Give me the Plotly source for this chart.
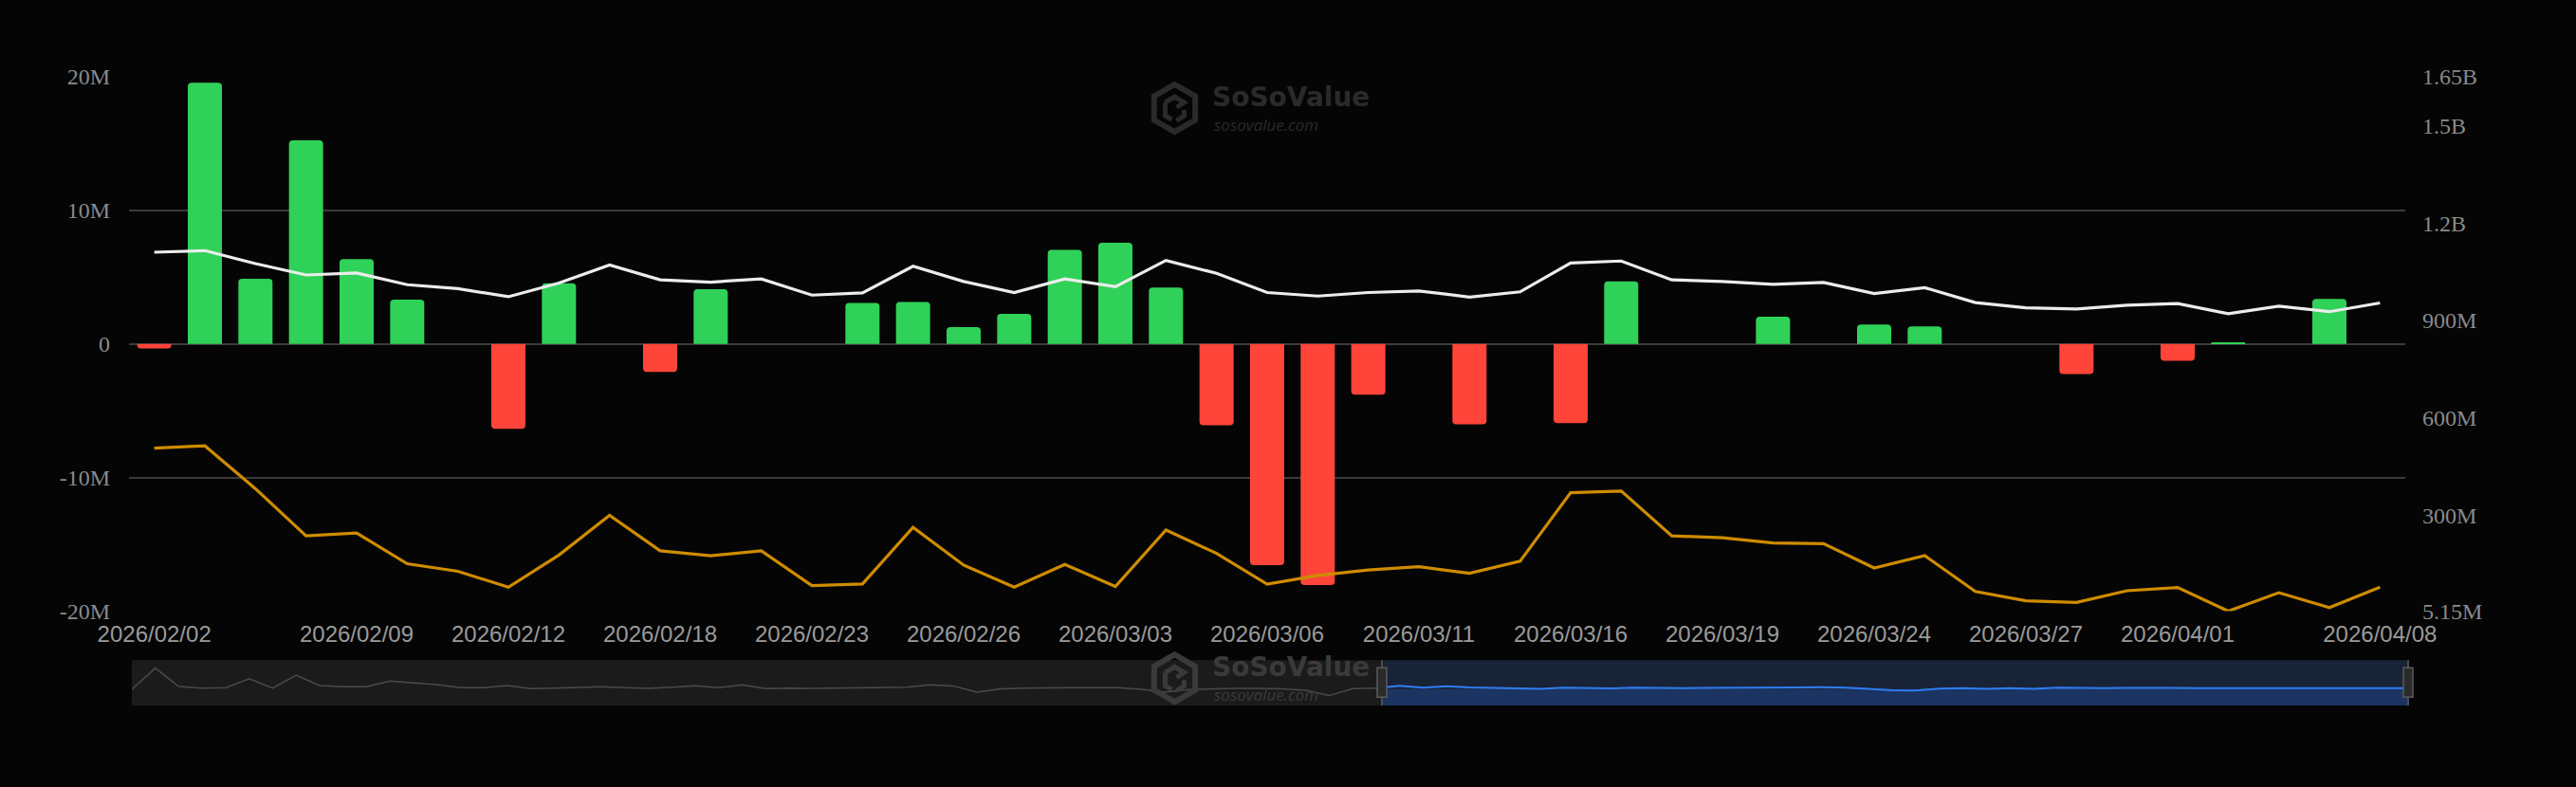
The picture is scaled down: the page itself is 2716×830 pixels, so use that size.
import plotly.graph_objects as go
import math

# ---------------- data ----------------
dates = [
    "2026/02/02", "2026/02/03", "2026/02/04", "2026/02/05", "2026/02/09",
    "2026/02/10", "2026/02/11", "2026/02/12", "2026/02/13", "2026/02/17",
    "2026/02/18", "2026/02/19", "2026/02/20", "2026/02/23", "2026/02/24",
    "2026/02/25", "2026/02/26", "2026/02/27", "2026/03/02", "2026/03/03",
    "2026/03/04", "2026/03/05", "2026/03/06", "2026/03/09", "2026/03/10",
    "2026/03/11", "2026/03/12", "2026/03/13", "2026/03/16", "2026/03/17",
    "2026/03/18", "2026/03/19", "2026/03/20", "2026/03/23", "2026/03/24",
    "2026/03/25", "2026/03/26", "2026/03/27", "2026/03/30", "2026/03/31",
    "2026/04/01", "2026/04/02", "2026/04/06", "2026/04/07", "2026/04/08",
]

# daily net inflow (M USD)
net_inflow = [
    -0.33, 19.55, 4.88, 15.24, 6.35, 3.32, 0, -6.35, 4.55, 0,
    -2.10, 4.10, 0, 0, 3.08, 3.15, 1.26, 2.25, 7.04, 7.58,
    4.22, -6.09, -16.56, -18.05, -3.79, 0, -6.01, 0, -5.92, 4.69,
    0, 0, 2.04, 0, 1.45, 1.31, 0, 0, -2.25, 0,
    -1.25, 0.12, 0, 3.37, 0,
]

# total net assets (M USD), right axis
total_net_assets = [
    1110, 1115, 1075, 1040, 1046, 1010, 998, 973, 1015, 1071,
    1025, 1018, 1028, 978, 985, 1067, 1020, 986, 1028, 1004,
    1085, 1045, 986, 975, 986, 991, 972, 988, 1077, 1083,
    1025, 1020, 1011, 1017, 983, 1001, 955, 939, 935, 947,
    952, 921, 944, 927, 954,
]

# value traded (M USD), right axis
value_traded = [
    507, 514, 382, 237, 246, 151, 128, 79, 178, 300,
    191, 176, 191, 84, 89, 263, 147, 79, 149, 81,
    255, 183, 88, 115, 132, 142, 122, 159, 370, 375,
    237, 231, 215, 213, 138, 176, 66, 37, 32, 68,
    78, 5.15, 62, 16, 79,
]

# net inflow of the earlier days shown only in the zoom slider (M USD)
slider_earlier_inflow = [
    -9, 163, 14, 1, 4, 76, 1, 106, 22, 12,
    12, 58, 42, 29, 4, 4, 22, -4, 1, 9,
    12, 4, -1, 9, 19, 4, 27, -4, 1, -1,
    1, 1, 4, 9, 27, 17, -32, -6, 1, 4,
    4, 4, 4, -9, -32, -12, -4, -1, -1, -6,
    -17, -60, -4,
]

x_tick_labels = [
    "2026/02/02", "2026/02/09", "2026/02/12", "2026/02/18", "2026/02/23",
    "2026/02/26", "2026/03/03", "2026/03/06", "2026/03/11", "2026/03/16",
    "2026/03/19", "2026/03/24", "2026/03/27", "2026/04/01", "2026/04/08",
]
left_tick_vals = [-20, -10, 0, 10, 20]
left_tick_text = ["-20M", "-10M", "0", "10M", "20M"]
right_tick_vals = [5.15, 300, 600, 900, 1200, 1500, 1650]
right_tick_text = ["5.15M", "300M", "600M", "900M", "1.2B", "1.5B", "1.65B"]

# ---------------- layout geometry ----------------
W, H = 2716, 830
ML, MR, MT, MB = 136, 176, 81, 86.3
PW = W - ML - MR
PH = H - MT - MB


def px(x):
    return (x - ML) / PW


def py(y):
    return (H - MB - y) / PH


GREEN = "#30D158"
RED = "#FF453A"
bar_colors = [GREEN if v >= 0 else RED for v in net_inflow]

fig = go.Figure()

fig.add_trace(go.Bar(
    x=dates, y=net_inflow, marker=dict(color=bar_colors, line=dict(width=0), cornerradius=4),
    xaxis="x", yaxis="y", name="Daily Net Inflow", hoverinfo="x+y",
))
fig.add_trace(go.Scatter(
    x=dates, y=total_net_assets, mode="lines", line=dict(color="#ECECEC", width=3.2),
    xaxis="x", yaxis="y2", name="Total Net Assets",
))
fig.add_trace(go.Scatter(
    x=dates, y=value_traded, mode="lines", line=dict(color="#CF8C00", width=3.2),
    xaxis="x", yaxis="y2", name="Value Traded",
))

# zoom slider sparkline
n_prev = len(slider_earlier_inflow)
all_flow = slider_earlier_inflow + net_inflow
idx_all = list(range(len(all_flow)))
fig.add_trace(go.Scatter(
    x=idx_all[:n_prev + 1], y=all_flow[:n_prev + 1], mode="lines",
    line=dict(color="#4a4a4a", width=1.5), xaxis="x2", yaxis="y3", hoverinfo="skip",
))
fig.add_trace(go.Scatter(
    x=idx_all[n_prev:], y=all_flow[n_prev:], mode="lines",
    line=dict(color="#2F7EF5", width=2), xaxis="x2", yaxis="y3", hoverinfo="skip",
))

slider_top, slider_bot = 696, 743.7
sel_x0, sel_x1 = 1457, 2539
shapes = [
    dict(type="rect", xref="paper", yref="paper", x0=px(139), x1=px(sel_x0),
         y0=py(slider_bot), y1=py(slider_top), fillcolor="#1b1b1b", line=dict(width=0), layer="below"),
    dict(type="rect", xref="paper", yref="paper", x0=px(sel_x0), x1=px(sel_x1),
         y0=py(slider_bot), y1=py(slider_top), fillcolor="#182338", line=dict(width=0), layer="below"),
    dict(type="rect", xref="paper", yref="paper", x0=px(sel_x0), x1=px(sel_x1),
         y0=py(slider_bot), y1=py(726.5), fillcolor="#1b3461", line=dict(width=0), layer="below"),
]
for hx in (sel_x0, sel_x1):
    shapes.append(dict(type="line", xref="paper", yref="paper", x0=px(hx), x1=px(hx),
                       y0=py(slider_bot), y1=py(slider_top), line=dict(color="#4d4d4d", width=2)))
    shapes.append(dict(type="rect", xref="paper", yref="paper", x0=px(hx - 5), x1=px(hx + 5),
                       y0=py(735), y1=py(704), fillcolor="#2a2a2a", line=dict(color="#5a5a5a", width=1.5)))


def hexagon(cx, cy, r):
    pts = []
    for k in range(6):
        a = math.radians(90 - 60 * k)
        pts.append((px(cx + r * math.cos(a)), py(cy - r * math.sin(a))))
    return "M " + " L ".join(f"{x:.6f},{y:.6f}" for x, y in pts) + " Z"


def logo_inner(cx, cy):
    segs = [
        [(cx - 10, cy - 6), (cx, cy - 12), (cx + 10, cy - 6), (cx + 2, cy - 1)],
        [(cx - 10, cy - 6), (cx - 10, cy + 8), (cx - 3, cy + 12)],
        [(cx + 10, cy + 2), (cx + 10, cy + 8), (cx + 2, cy + 13)],
    ]
    out = []
    for s in segs:
        out.append("M " + " L ".join(f"{px(x):.6f},{py(y):.6f}" for x, y in s))
    return " ".join(out)


annotations = []
for dy, col in ((0, "#2a2a2a"), (601, "#3a3a3a")):
    shapes.append(dict(type="path", xref="paper", yref="paper", path=hexagon(1238.5, 114 + dy, 25),
                       line=dict(color=col, width=6), layer="above"))
    shapes.append(dict(type="path", xref="paper", yref="paper", path=logo_inner(1238.5, 114 + dy),
                       line=dict(color=col, width=5), layer="above"))
    annotations.append(dict(xref="paper", yref="paper", x=px(1276), y=py(102.5 + dy), xanchor="left",
                            yanchor="middle", text="<b>SoSoValue</b>", showarrow=False,
                            font=dict(family="DejaVu Sans", size=28, color=col)))
    annotations.append(dict(xref="paper", yref="paper", x=px(1278), y=py(131 + dy), xanchor="left",
                            yanchor="middle", text="sosovalue.com", showarrow=False,
                            font=dict(family="Open Sans", size=17, color=col, style="italic")))

fig.update_layout(
    width=W, height=H,
    margin=dict(l=ML, r=MR, t=MT, b=MB, pad=0),
    paper_bgcolor="#050505",
    plot_bgcolor="rgba(0,0,0,0)",
    showlegend=False,
    bargap=0.325,
    xaxis=dict(
        type="category", domain=[0, (2536 - ML) / PW], anchor="y",
        range=[-0.5, len(dates) - 0.5],
        tickmode="array", tickvals=x_tick_labels, ticktext=x_tick_labels,
        tickfont=dict(family="Liberation Sans", size=24, color="#9a9a9a"),
        showgrid=False, showline=False, zeroline=False, ticks="", ticklabelstandoff=7,
    ),
    yaxis=dict(
        domain=[py(644.3), 1], anchor="x", range=[-20, 20],
        tickmode="array", tickvals=left_tick_vals, ticktext=left_tick_text,
        tickfont=dict(family="Liberation Serif", size=24, color="#8a8a8a"),
        showgrid=True, gridcolor="#3a3a3a", gridwidth=1.5, zeroline=False,
        showline=False, ticks="", ticklabelstandoff=19,
    ),
    yaxis2=dict(
        overlaying="y", side="right", anchor="x", range=[5.15, 1650],
        tickmode="array", tickvals=right_tick_vals, ticktext=right_tick_text,
        tickfont=dict(family="Liberation Serif", size=24, color="#8a8a8a"),
        showgrid=False, zeroline=False, showline=False, ticks="", ticklabelstandoff=17,
    ),
    xaxis2=dict(domain=[px(139), 1], anchor="y3", range=[0, len(all_flow) - 1], visible=False),
    yaxis3=dict(domain=[0, py(slider_top)], anchor="x2", range=[-140, 227], visible=False),
    shapes=shapes,
    annotations=annotations,
)

fig.write_html(
    "out.html",
    config={"displayModeBar": False},
    post_script="document.body.style.margin='0';document.body.style.background='#050505';",
)
